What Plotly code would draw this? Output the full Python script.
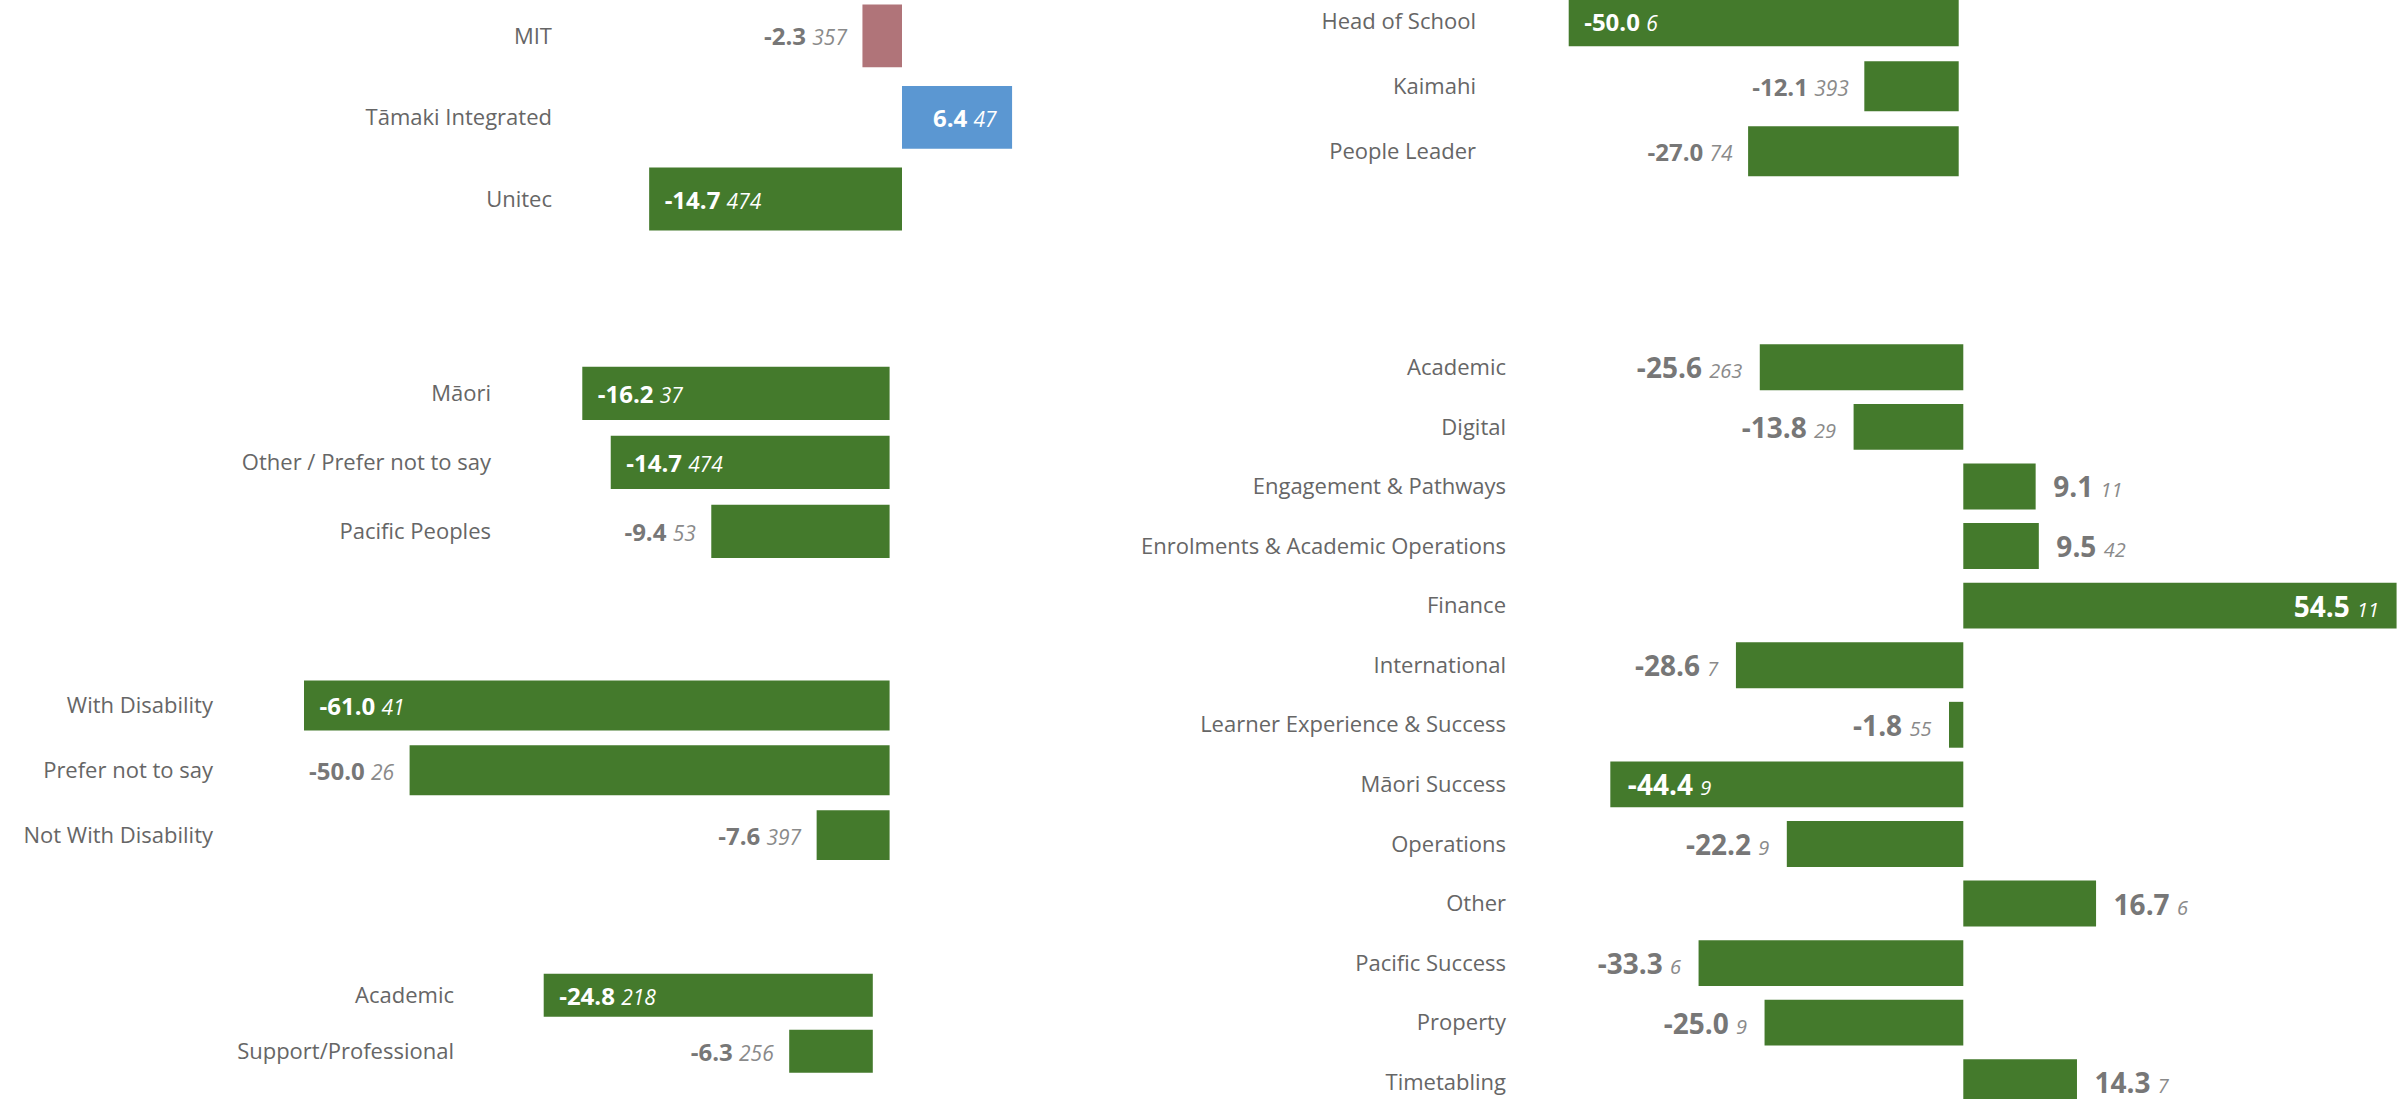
import plotly.graph_objects as go

# ---------------- data ----------------
inst_cats = ["MIT", "Tāmaki Integrated", "Unitec"]
inst_vals = [-2.3, 6.4, -14.7]
inst_n = [357, 47, 474]

eth_cats = ["Māori", "Other / Prefer not to say", "Pacific Peoples"]
eth_vals = [-16.2, -14.7, -9.4]
eth_n = [37, 474, 53]

dis_cats = ["With Disability", "Prefer not to say", "Not With Disability"]
dis_vals = [-61.0, -50.0, -7.6]
dis_n = [41, 26, 397]

role_cats = ["Academic", "Support/Professional"]
role_vals = [-24.8, -6.3]
role_n = [218, 256]

lvl_cats = ["Head of School", "Kaimahi", "People Leader"]
lvl_vals = [-50.0, -12.1, -27.0]
lvl_n = [6, 393, 74]

dept_cats = ["Academic", "Digital", "Engagement & Pathways",
             "Enrolments & Academic Operations", "Finance", "International",
             "Learner Experience & Success", "Māori Success", "Operations",
             "Other", "Pacific Success", "Property", "Timetabling"]
dept_vals = [-25.6, -13.8, 9.1, 9.5, 54.5, -28.6, -1.8, -44.4, -22.2,
             16.7, -33.3, -25.0, 14.3]
dept_n = [263, 29, 11, 42, 11, 7, 55, 9, 9, 6, 6, 9, 7]

# ---------------- styles ----------------
GREEN = "#447a2c"
inst_colors = ["#b07479", "#5b97d2", GREEN]
inst_inside = [False, True, True]
eth_inside = [True, True, False]
dis_inside = [True, False, False]
role_inside = [True, False]
lvl_inside = [True, False, False]
dept_inside = [False, False, False, False, True, False, False, True,
               False, False, False, False, False]

W, H = 2405, 1099
FONT = "Segoe UI, Open Sans, sans-serif"
LABEL_COLOR = "#666666"
VALUE_COLOR = "#777777"
COUNT_COLOR = "#8a8a8a"

# geometry (pixels): x_left, x_right, zero_x, px_per_unit, y_top, y_bottom, first_center, pitch
geoms = [
    (559, 1150, 902.0, 17.2, 0, 240, 35.8, 81.6),
    (498, 1100, 889.6, 18.97, 359, 566, 393.4, 69.0),
    (220, 1100, 889.6, 9.6, 672, 868, 705.5, 64.8),
    (461, 1100, 872.8, 13.27, 967, 1080, 995.3, 56.0),
    (1483, 2400, 1958.7, 7.8, 0, 184, 21.3, 65.0),
    (1513, 2405, 1963.3, 7.95, 337, 1099, 367.3, 59.58),
]

panels = [
    (inst_cats, inst_vals, inst_n, inst_inside, inst_colors, 24, 21),
    (eth_cats, eth_vals, eth_n, eth_inside, [GREEN] * 3, 24, 21),
    (dis_cats, dis_vals, dis_n, dis_inside, [GREEN] * 3, 24, 21),
    (role_cats, role_vals, role_n, role_inside, [GREEN] * 2, 24, 21),
    (lvl_cats, lvl_vals, lvl_n, lvl_inside, [GREEN] * 3, 24, 21),
    (dept_cats, dept_vals, dept_n, dept_inside, [GREEN] * 13, 28, 20),
]

fig = go.Figure()
PAD = "\u00a0\u00a0"

for i, ((cats, vals, ns, inside, colors, vsize, nsize), g) in enumerate(zip(panels, geoms), start=1):
    texts, positions = [], []
    for v, n, ins in zip(vals, ns, inside):
        if ins:
            cnt = f"<i><span style='font-size:{nsize}px'>{n}</span></i>"
        else:
            cnt = f"<i><span style='font-size:{nsize}px;color:{COUNT_COLOR}'>{n}</span></i>"
        core = f"<b>{v:.1f}</b> {cnt}"
        leading = (v < 0 and ins) or (v >= 0 and not ins)
        texts.append(PAD + core if leading else core + PAD)
        positions.append("inside" if ins else "outside")
    sfx = "" if i == 1 else str(i)
    fig.add_trace(go.Bar(
        y=cats, x=vals, orientation="h",
        marker=dict(color=colors, line=dict(width=0)),
        width=0.77,
        text=texts, textposition=positions, insidetextanchor="end",
        textangle=0, constraintext="none", cliponaxis=False,
        insidetextfont=dict(family=FONT, size=vsize, color="white"),
        outsidetextfont=dict(family=FONT, size=vsize, color=VALUE_COLOR),
        hoverinfo="skip", showlegend=False,
        xaxis="x" + sfx, yaxis="y" + sfx,
    ))
    xl, xr, z, ppu, yt, yb, c0, pitch = g
    ncat = len(cats)
    top_val = -(c0 - yt) / pitch
    bot_val = (ncat - 1) + (yb - (c0 + (ncat - 1) * pitch)) / pitch
    fig.update_layout(**{
        "xaxis" + sfx: dict(domain=[xl / W, min(xr / W, 1.0)],
                            range=[(xl - z) / ppu, (xr - z) / ppu],
                            visible=False, fixedrange=True,
                            anchor="y" + sfx),
        "yaxis" + sfx: dict(domain=[max(1 - yb / H, 0.0), min(1 - yt / H, 1.0)],
                            range=[bot_val, top_val],
                            type="category",
                            showgrid=False, zeroline=False, showline=False,
                            ticks="", ticklabelstandoff=6,
                            tickfont=dict(family=FONT, size=22, color=LABEL_COLOR),
                            anchor="x" + sfx, fixedrange=True),
    })

fig.update_layout(
    width=W, height=H,
    margin=dict(l=0, r=0, t=0, b=0),
    paper_bgcolor="white", plot_bgcolor="white",
    font=dict(family=FONT, color=LABEL_COLOR),
)

fig.write_html(
    "out.html",
    config={"displayModeBar": False},
    post_script="document.body.style.margin='0';document.body.style.overflow='hidden';",
)
